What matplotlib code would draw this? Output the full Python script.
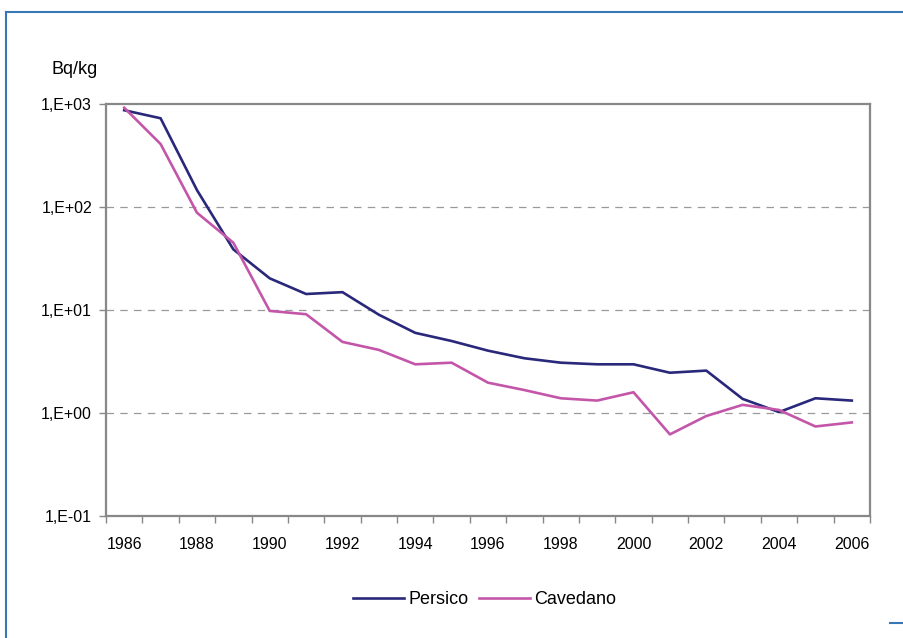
import numpy as np
import matplotlib
matplotlib.use('Agg')
import matplotlib.pyplot as plt
from matplotlib.lines import Line2D
from matplotlib.ticker import FixedLocator, NullLocator

plt.rcParams['font.family'] = ['Liberation Sans', 'DejaVu Sans']

years = list(range(1986, 2007))
persico = [870, 727, 146, 38.8, 20.3, 14.3, 14.9, 9.0, 6.0, 5.0, 4.03,
           3.4, 3.08, 2.97, 2.97, 2.46, 2.58, 1.37, 1.02, 1.39, 1.32]
cavedano = [920, 409, 88, 45, 9.8, 9.1, 4.9, 4.1, 2.97, 3.08, 1.97,
            1.67, 1.39, 1.32, 1.59, 0.62, 0.935, 1.20, 1.07, 0.74, 0.81]
y_ticks = [0.1, 1, 10, 100, 1000]
y_tick_labels = ['1,E-01', '1,E+00', '1,E+01', '1,E+02', '1,E+03']

W, H = 904, 638
fig = plt.figure(figsize=(W / 100, H / 100), dpi=100)
ax = fig.add_axes([106 / W, 1 - 516 / H, (870 - 106) / W, (516 - 104) / H])

x = np.arange(len(years))
ax.plot(x, persico, color='#29287A', lw=1.9, label='Persico')
ax.plot(x, cavedano, color='#C456AA', lw=1.9, label='Cavedano')

ax.set_yscale('log')
ax.set_ylim(0.1, 1000)
ax.set_xlim(-0.5, len(years) - 0.5)

ax.yaxis.set_major_locator(FixedLocator(y_ticks))
ax.yaxis.set_minor_locator(NullLocator())
ax.set_yticklabels(y_tick_labels)
for v in [1, 10, 100]:
    ax.axhline(v, color='#9A9A9A', lw=0.9, dashes=(6, 5), zorder=0)

# category axis: tick marks between categories, labels every other year
ax.set_xticks(np.arange(-0.5, len(years), 1.0))
ax.set_xticklabels([])
ax.set_xticks(x[::2], minor=True)
ax.set_xticklabels([str(y) for y in years[::2]], minor=True)
ax.tick_params(axis='x', which='major', length=5, width=1, color='#888888', direction='out')
ax.tick_params(axis='x', which='minor', length=0, pad=15, labelsize=11.5)
ax.tick_params(axis='y', which='major', length=5, width=1, color='#888888',
               direction='out', labelsize=11.5, pad=5)

for s in ax.spines.values():
    s.set_color('#888888')
    s.set_linewidth(1.6)

fig.text(52 / W, 1 - 70 / H, 'Bq/kg', fontsize=13, va='center', ha='left')

ax.legend(loc='center', bbox_to_anchor=(485 / W, 1 - 600 / H),
          bbox_transform=fig.transFigure, ncol=2, frameon=False, fontsize=13,
          handlelength=2.8, handletextpad=0.25, columnspacing=0.6)

# outer blue frame
bc = '#3A78B5'
fig.add_artist(Line2D([6.5 / W, 1], [1 - 11.5 / H, 1 - 11.5 / H],
                      transform=fig.transFigure, color=bc, lw=1.5))
fig.add_artist(Line2D([6.5 / W, 6.5 / W], [0, 1 - 11.5 / H],
                      transform=fig.transFigure, color=bc, lw=1.5))
fig.add_artist(Line2D([890 / W, 1], [1 - 622.5 / H, 1 - 622.5 / H],
                      transform=fig.transFigure, color=bc, lw=1.5))

fig.savefig('out.png', dpi=100)
